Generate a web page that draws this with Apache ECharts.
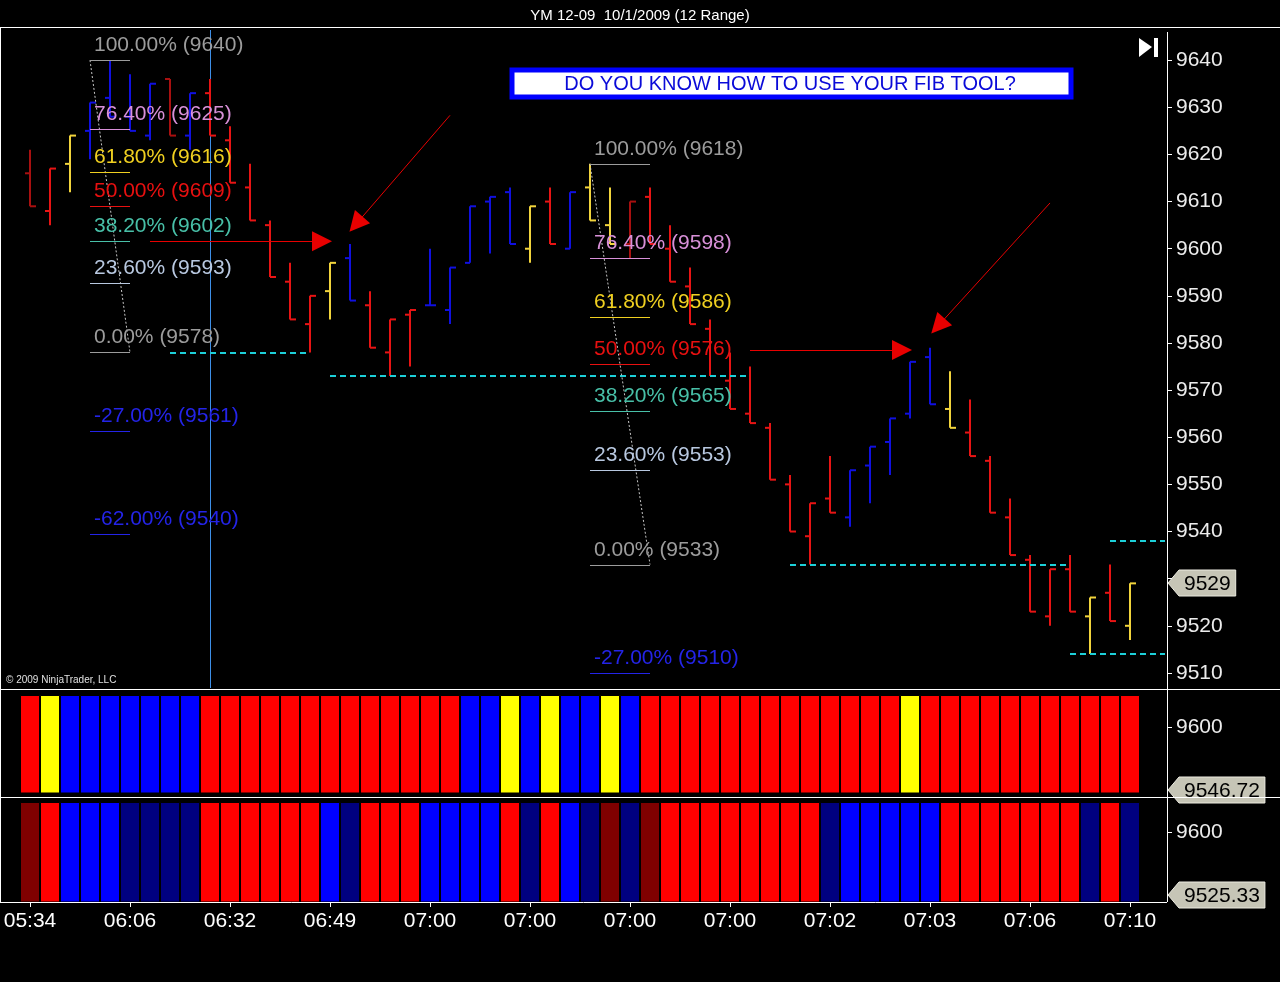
<!DOCTYPE html>
<html>
<head>
<meta charset="utf-8">
<title>YM 12-09 10/1/2009 (12 Range)</title>
<script src="https://cdn.jsdelivr.net/npm/echarts@6/dist/echarts.min.js"></script>
<style>
  html, body { margin: 0; padding: 0; background: #000; }
  #chart { width: 1280px; height: 982px; }
</style>
</head>
<body>
<div id="chart"></div>
<script>
// 12 range bars, YM 12-09
var opens  = [9616, 9608, 9618, 9625, 9632, 9628, 9624, 9636, 9624, 9633, 9623, 9613, 9605, 9593, 9584, 9591,
              9598, 9588, 9578, 9586, 9588, 9587, 9597, 9610, 9612, 9600, 9610, 9600, 9613, 9605, 9601, 9611,
              9600, 9592, 9583, 9572, 9565, 9562, 9550, 9539, 9547, 9543, 9554, 9559, 9565, 9577, 9566, 9561,
              9555, 9543, 9534, 9522, 9532, 9522, 9527, 9520];
var highs  = [9621, 9617, 9624, 9631, 9640, 9637, 9635, 9636, 9633, 9636, 9626, 9618, 9606, 9597, 9590, 9597,
              9601, 9591, 9585, 9587, 9600, 9596, 9609, 9611, 9613, 9609, 9613, 9612, 9618, 9613, 9610, 9613,
              9605, 9596, 9585, 9578, 9575, 9563, 9552, 9546, 9556, 9553, 9558, 9564, 9576, 9579, 9574, 9568,
              9556, 9547, 9535, 9532, 9535, 9526, 9533, 9529];
var lows   = [9609, 9605, 9612, 9619, 9628, 9625, 9623, 9624, 9621, 9624, 9614, 9606, 9594, 9585, 9578, 9585,
              9589, 9579, 9573, 9575, 9588, 9584, 9597, 9599, 9601, 9597, 9601, 9600, 9606, 9601, 9598, 9601,
              9593, 9584, 9573, 9566, 9563, 9551, 9540, 9533, 9544, 9541, 9546, 9552, 9564, 9567, 9562, 9556,
              9544, 9535, 9523, 9520, 9523, 9514, 9521, 9517];
var closes = [9609, 9617, 9624, 9631, 9628, 9625, 9635, 9624, 9633, 9624, 9614, 9606, 9594, 9585, 9590, 9597,
              9589, 9579, 9585, 9587, 9588, 9596, 9609, 9611, 9601, 9609, 9601, 9612, 9606, 9601, 9610, 9601,
              9593, 9584, 9573, 9566, 9563, 9551, 9540, 9546, 9544, 9553, 9558, 9564, 9576, 9567, 9562, 9556,
              9544, 9535, 9523, 9532, 9523, 9526, 9521, 9529];

// paint-bar colour of each price bar: d dark red, r red, y yellow, b blue
var barColors = ['d','r','y','b','b','b','b','d','b','r', 'r','r','r','r','r','y','b','r','r','r',
                 'b','b','b','b','b','y','r','b','y','y', 'd','r','r','r','r','r','r','r','r','r',
                 'r','b','b','b','b','b','y','r','r','r', 'r','r','r','y','r','y'];

// lower indicator panels, one cell per bar: n navy
var panel1Colors = ['r','y','b','b','b','b','b','b','b','r', 'r','r','r','r','r','r','r','r','r','r',
                    'r','r','b','b','y','b','y','b','b','y', 'b','r','r','r','r','r','r','r','r','r',
                    'r','r','r','r','y','r','r','r','r','r', 'r','r','r','r','r','r'];
var panel2Colors = ['d','r','b','b','b','n','n','n','n','r', 'r','r','r','r','r','b','n','r','r','r',
                    'b','b','b','b','r','n','r','b','n','d', 'n','d','r','r','r','r','r','r','r','r',
                    'n','b','b','b','b','b','r','r','r','r', 'r','r','r','n','r','n'];
var panel1Last = 9546.72;
var panel2Last = 9525.33;

// time axis labels, one every 5 bars
var timeLabels = ['05:34', '06:06', '06:32', '06:49', '07:00', '07:00', '07:00', '07:00', '07:02', '07:03', '07:06', '07:10'];
var labelEvery = 5;

var priceTicks = [9510, 9520, 9530, 9540, 9550, 9560, 9570, 9580, 9590, 9600, 9610, 9620, 9630, 9640];

// fib tools: start bar, end bar, swing high, swing low
var fibAnchors = [[3, 5, 9640, 9578], [28, 31, 9618, 9533]];
var fibPcts = [[100, 76.4, 61.8, 50, 38.2, 23.6, 0, -27, -62],
               [100, 76.4, 61.8, 50, 38.2, 23.6, 0, -27]];

// dashed swing lines: from bar, to bar, price
var swingLines = [[7, 14, 9578], [15, 36, 9573], [38, 52, 9533], [54, 56.75, 9538], [52, 56.75, 9514]];
// red arrows: from [bar, price] to [bar, price]
var arrows = [[[6, 9601.6], [14.6, 9601.6]],
              [[21, 9628.3], [16.3, 9605.2]],
              [[36, 9578.5], [43.6, 9578.5]],
              [[51, 9609.7], [45.4, 9583.6]]];
var cursorBar = 9;

var FONT = '"Liberation Sans", Arial, sans-serif';
var priceColor = { d: '#a81010', r: '#e81414', y: '#f2d43c', b: '#1010e0' };
var cellColor = { d: '#800000', r: '#ff0000', y: '#ffff00', b: '#0000ff', n: '#000080' };

var pctColor = function(p) {
  if (p === 100 || p === 0) return '#9c9c9c';
  if (p === 76.4) return '#d890d8';
  if (p === 61.8) return '#f0d020';
  if (p === 50) return '#e81010';
  if (p === 38.2) return '#48c0a8';
  if (p === 23.6) return '#b8c8e0';
  return '#2424e8';
};

var priceMin = 9506.8, priceMax = 9646.4;
var p1Min = 9544.2, p1Max = 9627.1;
var p2Min = 9517.0, p2Max = 9635.6;

var lastClose = closes[closes.length - 1];
// the last-price tag hides the axis label next to it
var priceLabels = priceTicks.filter(function(t) { return Math.abs(t - lastClose) > 3; });

var ohlcData = opens.map(function(o, i) {
  return [i, o, highs[i], lows[i], closes[i]];
});

var fibItems = [];
fibAnchors.forEach(function(a, t) {
  fibPcts[t].forEach(function(p) {
    var price = a[3] + p / 100 * (a[2] - a[3]);
    fibItems.push({
      value: [a[0], a[1], price],
      label: p.toFixed(2) + '% (' + Math.round(price) + ')',
      color: pctColor(p)
    });
  });
});

var categories = opens.map(function(o, i) { return String(i); });

function renderOhlc(params, api) {
  var i = api.value(0);
  var pO = api.coord([i, api.value(1)]);
  var pH = api.coord([i, api.value(2)]);
  var pL = api.coord([i, api.value(3)]);
  var pC = api.coord([i, api.value(4)]);
  var x = Math.round(pH[0]);
  var style = { stroke: priceColor[barColors[params.dataIndex]], lineWidth: 2 };
  return {
    type: 'group',
    children: [
      { type: 'line', shape: { x1: x, y1: pH[1], x2: x, y2: pL[1] }, style: style },
      { type: 'line', shape: { x1: x - 5, y1: pO[1], x2: x, y2: pO[1] }, style: style },
      { type: 'line', shape: { x1: x, y1: pC[1], x2: x + 6, y2: pC[1] }, style: style }
    ]
  };
}

function renderFib(params, api) {
  var item = fibItems[params.dataIndex];
  var a = api.coord([api.value(0), api.value(2)]);
  var b = api.coord([api.value(1), api.value(2)]);
  var y = Math.round(a[1]) + 0.5;
  return {
    type: 'group',
    children: [
      { type: 'line', shape: { x1: a[0], y1: y, x2: b[0], y2: y }, style: { stroke: item.color, lineWidth: 1 } },
      {
        type: 'text', x: a[0] + 4, y: y - 15,
        style: {
          text: item.label, fill: item.color, font: '21px ' + FONT,
          align: 'left', verticalAlign: 'middle', textAlign: 'left', textVerticalAlign: 'middle'
        }
      }
    ]
  };
}

function cellSeries(colors, top, gridIdx) {
  return {
    type: 'bar',
    xAxisIndex: gridIdx, yAxisIndex: gridIdx,
    barWidth: '100%', barCategoryGap: 0,
    data: colors.map(function(c) {
      return { value: top, itemStyle: { color: cellColor[c], borderColor: '#000', borderWidth: 1 } };
    })
  };
}

function plainNumber(v) { return String(v); }

function priceAxis(gridIdx, min, max, ticks, labels, offset) {
  return {
    type: 'value', gridIndex: gridIdx, position: 'right', offset: offset, min: min, max: max,
    axisLine: { show: false, onZero: false }, splitLine: { show: false },
    axisTick: { show: true, length: 5, customValues: ticks, lineStyle: { color: '#ffffff' } },
    axisLabel: {
      margin: 9, customValues: labels, formatter: plainNumber,
      color: '#ececec', fontSize: 21, fontFamily: FONT
    }
  };
}

var chart = echarts.init(document.getElementById('chart'));

chart.setOption({
  backgroundColor: '#000',
  animation: false,
  title: {
    text: 'YM 12-09  10/1/2009 (12 Range)',
    left: 'center', top: 3,
    textStyle: { color: '#ffffff', fontSize: 15, fontWeight: 'normal', fontFamily: FONT }
  },
  grid: [
    { left: 0, top: 30, width: 1167, height: 658 },
    { left: 20, top: 695, width: 1120, height: 98 },
    { left: 20, top: 802, width: 1120, height: 100 }
  ],
  xAxis: [
    { type: 'value', gridIndex: 0, min: -1.5, max: 56.85, show: false },
    { type: 'category', gridIndex: 1, data: categories, show: false },
    {
      type: 'category', gridIndex: 2, data: categories,
      axisLine: { show: false, onZero: false },
      axisTick: {
        show: true, alignWithLabel: true, length: 5,
        interval: function(i) { return i % labelEvery === 0; },
        lineStyle: { color: '#ffffff' }
      },
      axisLabel: {
        interval: 0, margin: 9, color: '#ffffff', fontSize: 21, fontFamily: FONT,
        formatter: function(v, i) { return i % labelEvery === 0 ? timeLabels[i / labelEvery] : ''; }
      }
    }
  ],
  yAxis: [
    priceAxis(0, priceMin, priceMax, priceTicks, priceLabels, 0),
    priceAxis(1, p1Min, p1Max, [9600], [9600], 27),
    priceAxis(2, p2Min, p2Max, [9600], [9600], 27)
  ],
  series: [
    {
      type: 'custom', name: 'bars', xAxisIndex: 0, yAxisIndex: 0, z: 3,
      renderItem: renderOhlc, data: ohlcData,
      encode: { x: 0, y: [1, 2, 3, 4] }
    },
    {
      type: 'lines', name: 'cursor', coordinateSystem: 'cartesian2d', xAxisIndex: 0, yAxisIndex: 0, z: 2,
      symbol: 'none', lineStyle: { color: '#3d8fe8', width: 1, opacity: 1 },
      data: [{ coords: [[cursorBar, priceMin], [cursorBar, priceMax]] }]
    },
    {
      type: 'lines', name: 'swing', coordinateSystem: 'cartesian2d', xAxisIndex: 0, yAxisIndex: 0, z: 4,
      symbol: 'none', lineStyle: { color: '#1ccfd8', width: 2, type: [6, 4], opacity: 1 },
      data: swingLines.map(function(s) { return { coords: [[s[0], s[2]], [s[1], s[2]]] }; })
    },
    {
      type: 'lines', name: 'fibDiag', coordinateSystem: 'cartesian2d', xAxisIndex: 0, yAxisIndex: 0, z: 4,
      symbol: 'none', lineStyle: { color: '#c8c8c8', width: 1, type: [2, 2], opacity: 1 },
      data: fibAnchors.map(function(a) { return { coords: [[a[0], a[2]], [a[1], a[3]]] }; })
    },
    {
      type: 'custom', name: 'fib', xAxisIndex: 0, yAxisIndex: 0, z: 5, clip: false,
      renderItem: renderFib,
      data: fibItems.map(function(f) { return f.value; }),
      encode: { x: [0, 1], y: 2 }
    },
    {
      type: 'lines', name: 'arrows', coordinateSystem: 'cartesian2d', xAxisIndex: 0, yAxisIndex: 0, z: 6,
      symbol: ['none', 'triangle'], symbolSize: [15, 20],
      lineStyle: { color: '#e80000', width: 1, opacity: 1 },
      itemStyle: { color: '#ff0000' },
      data: arrows.map(function(a) { return { coords: a }; })
    },
    cellSeries(panel1Colors, p1Max, 1),
    cellSeries(panel2Colors, p2Max, 2)
  ]
});

// price tags on the right axis
var ctx = document.createElement('canvas').getContext('2d');
ctx.font = '21px ' + FONT;

function priceTag(y, text) {
  var w = ctx.measureText(text).width + 10;
  var x0 = 1168, h = 26, tip = 11;
  y = Math.round(y);
  return {
    type: 'group', zlevel: 1, z: 100,
    children: [
      {
        type: 'polygon',
        shape: { points: [[x0, y], [x0 + tip, y - h / 2], [x0 + tip + w, y - h / 2], [x0 + tip + w, y + h / 2], [x0 + tip, y + h / 2]] },
        style: { fill: '#c6c5b6', stroke: '#ecebe0', lineWidth: 1 }
      },
      {
        type: 'text', x: x0 + tip + w / 2, y: y + 1,
        style: {
          text: text, fill: '#000', font: '21px ' + FONT,
          align: 'center', verticalAlign: 'middle', textAlign: 'center', textVerticalAlign: 'middle'
        }
      }
    ]
  };
}

var lineStyleW = { stroke: '#ffffff', lineWidth: 1 };
var yLast = chart.convertToPixel({ yAxisIndex: 0 }, lastClose);
var y1 = chart.convertToPixel({ yAxisIndex: 1 }, panel1Last);
var y2 = chart.convertToPixel({ yAxisIndex: 2 }, panel2Last);

chart.setOption({
  graphic: [
    { type: 'line', z: 50, shape: { x1: 0, y1: 27.5, x2: 1280, y2: 27.5 }, style: lineStyleW },
    { type: 'line', z: 50, shape: { x1: 0.5, y1: 28, x2: 0.5, y2: 902 }, style: lineStyleW },
    { type: 'line', z: 50, shape: { x1: 0, y1: 689.5, x2: 1280, y2: 689.5 }, style: lineStyleW },
    { type: 'line', z: 50, shape: { x1: 0, y1: 797.5, x2: 1280, y2: 797.5 }, style: lineStyleW },
    { type: 'line', z: 50, shape: { x1: 1167.5, y1: 32, x2: 1167.5, y2: 902 }, style: lineStyleW },
    { type: 'line', z: 50, shape: { x1: 0, y1: 902.5, x2: 1167, y2: 902.5 }, style: lineStyleW },
    {
      type: 'group', z: 60,
      children: [
        { type: 'rect', shape: { x: 512, y: 70, width: 559, height: 27 }, style: { fill: '#ffffff', stroke: '#0000ff', lineWidth: 5 } },
        {
          type: 'text', x: 790, y: 84,
          style: {
            text: 'DO YOU KNOW HOW TO USE YOUR FIB TOOL?', fill: '#0a0ad8', font: '20px ' + FONT,
            align: 'center', verticalAlign: 'middle', textAlign: 'center', textVerticalAlign: 'middle'
          }
        }
      ]
    },
    { type: 'polygon', z: 60, shape: { points: [[1139, 38], [1152, 47], [1139, 57]] }, style: { fill: '#ffffff' } },
    { type: 'rect', z: 60, shape: { x: 1154, y: 38, width: 4, height: 19 }, style: { fill: '#ffffff' } },
    {
      type: 'text', z: 60, x: 6, y: 680,
      style: {
        text: '\u00a9 2009 NinjaTrader, LLC', fill: '#e0e0e0', font: '10px ' + FONT,
        align: 'left', verticalAlign: 'middle', textAlign: 'left', textVerticalAlign: 'middle'
      }
    },
    priceTag(yLast, String(lastClose)),
    priceTag(y1, panel1Last.toFixed(2)),
    priceTag(y2, panel2Last.toFixed(2))
  ]
});
</script>
</body>
</html>
